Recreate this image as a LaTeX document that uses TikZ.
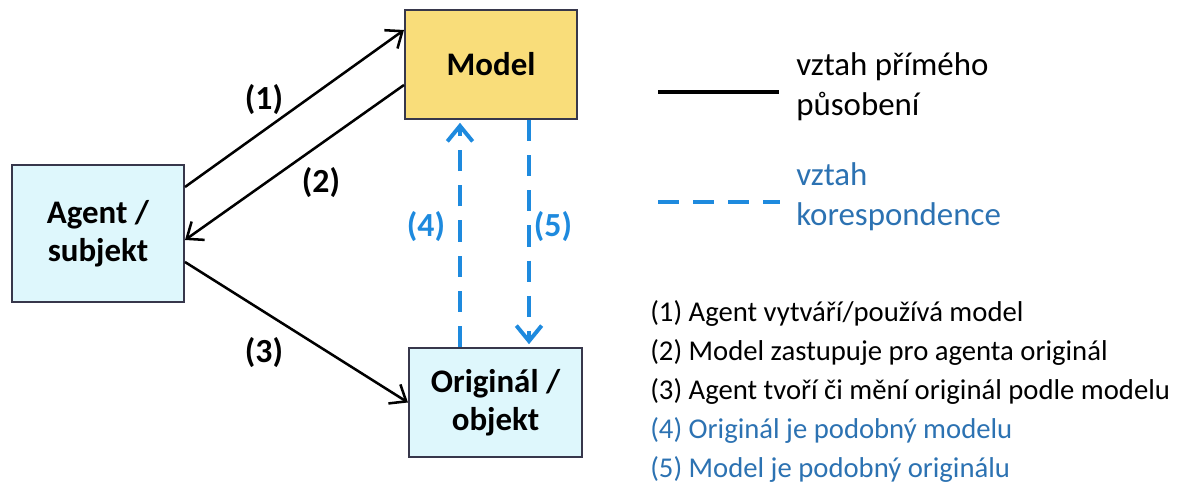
\documentclass[tikz,border=0pt]{standalone}
\usepackage{fontspec}
\setmainfont{Carlito}
\usetikzlibrary{arrows.meta, positioning}
\definecolor{modelyellow}{RGB}{249,221,122}
\definecolor{paleblue}{RGB}{222,247,252}
\definecolor{boxgray}{RGB}{55,55,75}
\definecolor{corrblue}{RGB}{30,138,222}
\definecolor{textblue}{RGB}{44,114,178}

\begin{document}
\begin{tikzpicture}[
    x=0.025cm, y=-0.025cm,
    box/.style={rectangle, draw=boxgray, line width=1.4pt, minimum width=4.3cm, minimum height=2.725cm, inner sep=0pt, align=center, font=\fontsize{23.4}{27}\selectfont\bfseries},
    direct/.style={draw=black, line width=1.8pt, -{Straight Barb[length=10pt, width=16pt]}},
    corr/.style={draw=corrblue, line width=2.8pt, dash pattern=on 15pt off 10pt, -{Straight Barb[length=11pt, width=18pt]}},
    numlabel/.style={font=\fontsize{24}{28}\selectfont\bfseries},
    legendtext/.style={anchor=west, inner sep=0pt, align=left, font=\fontsize{23.4}{28.3}\selectfont},
    item/.style={anchor=west, inner sep=0pt, font=\fontsize{20.4}{24}\selectfont},
]
    \useasboundingbox (0,0) rectangle (1180,490);

    % the three boxes
    \node[box, fill=modelyellow] (model) at (491,64.5) {Model};
    \node[box, fill=paleblue, minimum height=3.425cm] (agent) at (98,233.5) {Agent /\\subjekt};
    \node[box, fill=paleblue, minimum width=4.325cm] (orig) at (495.5,402.5) {Originál /\\objekt};

    % direct relations
    \draw[direct] ([yshift=1.1625cm]agent.east) -- ([yshift=0.8625cm]model.west);
    \draw[direct] ([yshift=-0.5125cm]model.west) -- ([yshift=-0.1625cm]agent.east);
    \draw[direct] ([yshift=-0.7125cm]agent.east) -- (orig.west);

    % correspondence
    \draw[corr, shorten >=2pt] ([xshift=-0.8875cm]orig.north) -- ([xshift=-0.8875cm]orig.north |- model.south);
    \draw[corr, shorten >=2pt] ([xshift=0.95cm]model.south) -- ([xshift=0.95cm]model.south |- orig.north);

    \node[numlabel] (n1) at (264,100) {(1)};
    \node[numlabel] (n2) at (321,183) {(2)};
    \node[numlabel] (n3) at (264,353) {(3)};
    \node[numlabel, text=corrblue] (n4) at (426,227) {(4)};
    \node[numlabel, text=corrblue] (n5) at (553,227) {(5)};

    % legend
    \coordinate (solidA) at (658,92);
    \coordinate (solidB) at (779,92);
    \draw[line width=2.2pt] (solidA) -- (solidB);
    \node[legendtext] (legdirect) at (796,87) {vztah přímého\\působení};
    \coordinate (dashA) at (658,202);
    \coordinate (dashB) at (780,202);
    \draw[corrblue, line width=2.8pt, dash pattern=on 15pt off 10pt] (dashA) -- (dashB);
    \node[legendtext, text=textblue] (legcorr) at (796,197) {vztah\\korespondence};

    \node[item] (l1) at (650,313) {(1) Agent vytváří/používá model};
    \node[item, below=0.98cm of l1.west, anchor=west] (l2) {(2) Model zastupuje pro agenta originál};
    \node[item, below=0.98cm of l2.west, anchor=west] (l3) {(3) Agent tvoří či mění originál podle modelu};
    \node[item, text=textblue, below=0.98cm of l3.west, anchor=west] (l4) {(4) Originál je podobný modelu};
    \node[item, text=textblue, below=0.98cm of l4.west, anchor=west] (l5) {(5) Model je podobný originálu};
\end{tikzpicture}
\end{document}
